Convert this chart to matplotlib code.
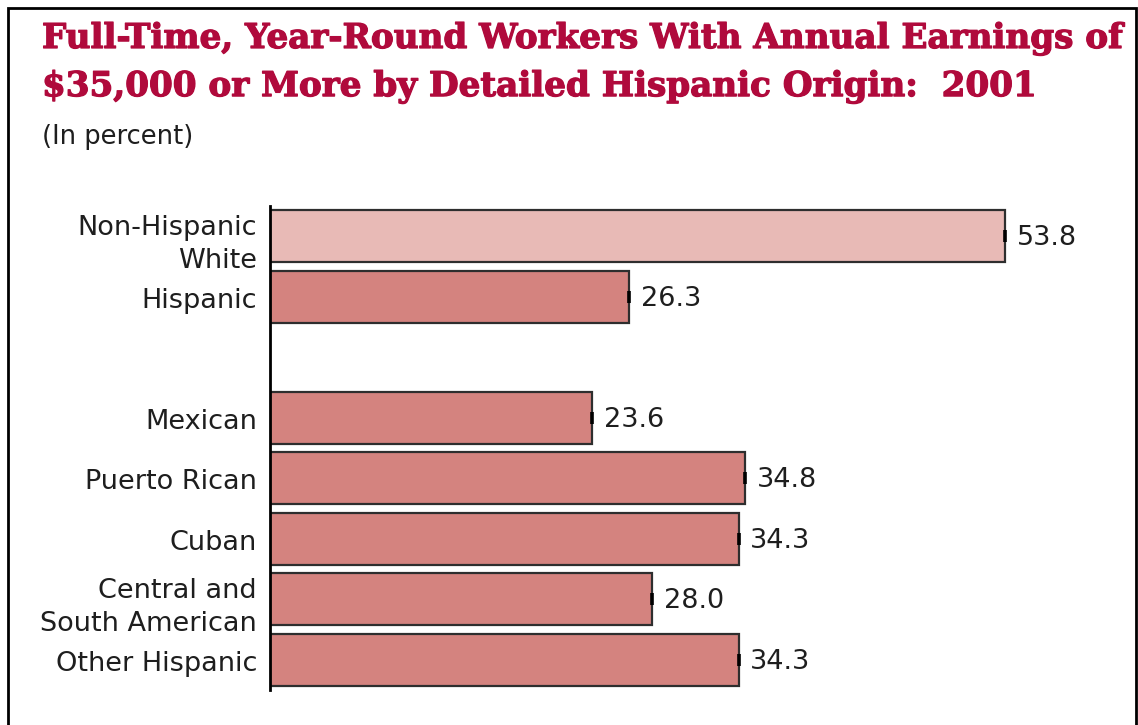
import matplotlib

matplotlib.use("Agg")

import matplotlib.pyplot as plt
import matplotlib.patheffects as pe
from matplotlib.patches import Rectangle
from matplotlib.transforms import offset_copy

# Share of full-time, year-round workers earning $35,000+ (percent)
groups = [
    "Non-Hispanic\nWhite",
    "Hispanic",
    "Mexican",
    "Puerto Rican",
    "Cuban",
    "Central and\nSouth American",
    "Other Hispanic",
]
shares = [53.8, 26.3, 23.6, 34.8, 34.3, 28.0, 34.3]
# slot index of each bar; a blank slot separates the totals from the origins
slots = [0, 1, 3, 4, 5, 6, 7]

TITLE = ("Full-Time, Year-Round Workers With Annual Earnings of\n"
         "$35,000 or More by Detailed Hispanic Origin:  2001")
SUBTITLE = "(In percent)"

TITLE_RED = "#B00A3C"
LIGHT_BAR = "#E8BAB6"
DARK_BAR = "#D4837F"
EDGE = "#2E2E2E"
TEXT = "#1E1E1E"

W, H = 1138, 725
PX_PER_UNIT = 13.66
X_MAX = 63.0

fig = plt.figure(figsize=(W / 100, H / 100), dpi=100)
fig.patch.set_facecolor("white")

# axes placed in pixel terms: spine at x=270, slots -0.5..7.5 span y=206..690
left, top, bottom = 270, 206, 690
ax = fig.add_axes([left / W, 1 - bottom / H,
                   X_MAX * PX_PER_UNIT / W, (bottom - top) / H])
ax.set_xlim(0, X_MAX)
ax.set_ylim(7.5, -0.5)

colors = [LIGHT_BAR] + [DARK_BAR] * (len(shares) - 1)
ax.barh(slots, shares, height=0.86, color=colors, edgecolor=EDGE,
        linewidth=1.6, zorder=2)

for y, v in zip(slots, shares):
    ax.plot([v, v], [y - 0.1, y + 0.1], color="black", lw=2.6,
            solid_capstyle="butt", zorder=3)
    ax.text(v + 0.85, y + 0.03, f"{v:.1f}", va="center", ha="left",
            fontsize=19.5, color=TEXT, family="DejaVu Sans")

# category names sit a little left of the spine and slightly below centre;
# two-line names drop a bit further
for y, name in zip(slots, groups):
    drop = -8 if "\n" in name else -4
    label_tf = offset_copy(ax.get_yaxis_transform(), fig=fig, x=-13,
                           y=drop, units="dots")
    ax.text(0, y, name, transform=label_tf, ha="right", va="center",
            multialignment="right", fontsize=19.5, color=TEXT,
            family="DejaVu Sans", linespacing=1.33)

ax.set_yticks([])
ax.set_xticks([])
for side in ("top", "right", "bottom"):
    ax.spines[side].set_visible(False)
ax.spines["left"].set_linewidth(2)
ax.spines["left"].set_color("black")

fig.text(42 / W, 1 - 22 / H, TITLE, ha="left", va="top",
         fontsize=24.6, fontweight="bold", color=TITLE_RED,
         family="DejaVu Serif", linespacing=1.58,
         path_effects=[pe.withStroke(linewidth=0.9, foreground=TITLE_RED)])
fig.text(42 / W, 1 - 137 / H, SUBTITLE, ha="left", va="center",
         fontsize=18.5, color=TEXT, family="DejaVu Sans")

# outer frame; it runs past the bottom edge of the canvas
fig.add_artist(Rectangle((8 / W, -0.05), (1136 - 8) / W, 1 - 8 / H + 0.05,
                         transform=fig.transFigure, fill=False,
                         edgecolor="black", linewidth=2))

fig.savefig("out.png", dpi=100)
